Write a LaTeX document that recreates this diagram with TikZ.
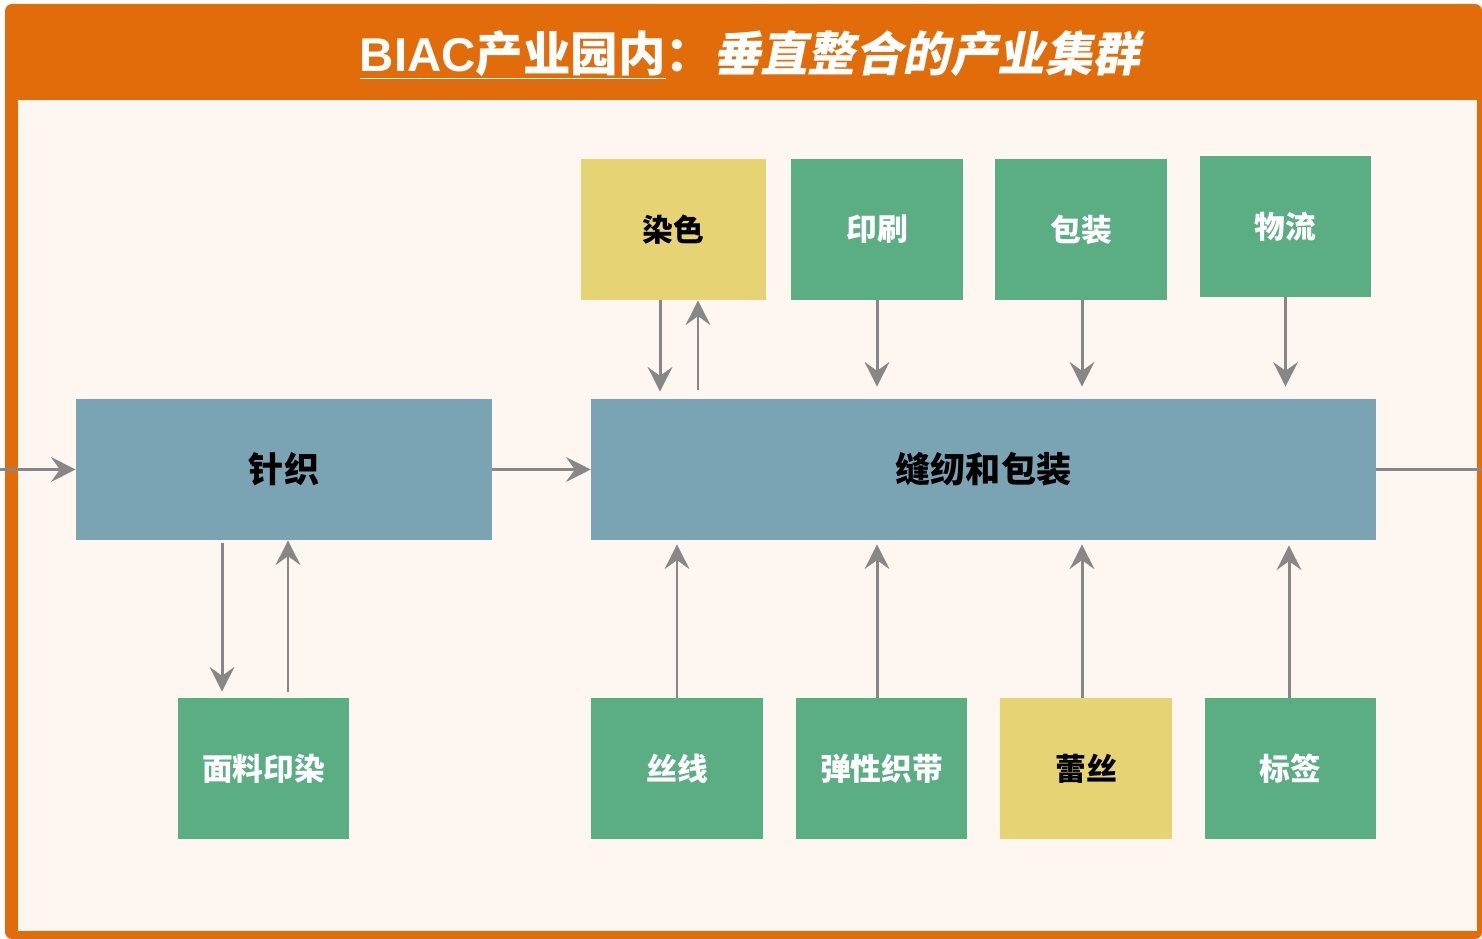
\documentclass[tikz,border=0pt]{standalone}
\usepackage{fontspec}
\setmainfont{Liberation Sans}
\newfontfamily\cjk{Noto Sans CJK SC}
\newfontfamily\cjkit{Noto Sans CJK SC}[FakeSlant=0.2]
\usepackage{tikz}
\usetikzlibrary{arrows.meta}

\definecolor{frameorange}{HTML}{E36C0A}
\definecolor{cream}{HTML}{FEF6F0}
\definecolor{steel}{HTML}{7AA3B4}
\definecolor{leaf}{HTML}{5BAE83}
\definecolor{straw}{HTML}{E6D374}
\definecolor{flowgray}{HTML}{878787}

\tikzset{
  box/.style={rectangle, minimum height=2.82cm, inner sep=0pt, font=\cjk\bfseries\fontsize{17.5}{20}\selectfont},
  bluebox/.style={box, fill=steel, text=black, minimum width=#1, font=\cjk\bfseries\fontsize{20}{24}\selectfont},
  greenbox/.style={box, fill=leaf, text=white, minimum width=#1},
  yellowbox/.style={box, fill=straw, text=black, minimum width=#1},
  flow/.style={draw=flowgray, line width=1.7pt, -{Stealth[length=14pt,width=14pt,inset=5pt]}},
}

\begin{document}
\begin{tikzpicture}[x=0.02cm,y=-0.02cm]

\useasboundingbox (0,0) rectangle (1482,939);

% Frame
\fill[white] (0,0) rectangle (1482,939);
\fill[frameorange, rounded corners=4] (5,4) rectangle (1482,939);
\fill[cream] (18,100) rectangle (1477,931);

% Title
\node[text=white, font=\bfseries\fontsize{27}{32}\selectfont, inner sep=0pt] (title) at (750,55)
  {\underline{BIAC{\cjk 产业园内}}{\cjk ：}{\cjkit 垂直整合的产业集群}};

% Main line
\node[bluebox=8.32cm] (zhenzhi) at (284,469.5) {针织};
\node[bluebox=15.7cm] (fengren) at (983.5,469.5) {缝纫和包装};

% Services above
\node[yellowbox=3.7cm] (ranse) at (673.5,229.5) {染色};
\node[greenbox=3.44cm] (yinshua) at (877,229.5) {印刷};
\node[greenbox=3.44cm] (baozhuang) at (1081,229.5) {包装};
\node[greenbox=3.42cm] (wuliu) at (1285.5,226.5) {物流};

% Materials below
\node[greenbox=3.42cm] (mianliao) at (263.5,768.5) {面料印染};
\node[greenbox=3.44cm] (sixian) at (677,768.5) {丝线};
\node[greenbox=3.44cm] (tanxing) at (881.5,768.5) {弹性织带};
\node[yellowbox=3.44cm] (leisi) at (1086,768.5) {蕾丝};
\node[greenbox=3.42cm] (biaoqian) at (1290.5,768.5) {标签};

% Ends of the main line
\coordinate (in) at (0,469.5);
\coordinate (out) at (1482,469.5);

% Main flow
\draw[flow] (in) -- (zhenzhi.west);
\draw[flow] (zhenzhi.east) -- (fengren.west);
\draw[draw=flowgray, line width=1.7pt] (fengren.east) -- (out);

% Dyeing loop
\draw[flow, shorten >=0.14cm] ([xshift=-0.27cm]ranse.south) -- ([xshift=-0.27cm]ranse.south |- fengren.north);
\draw[flow, shorten <=0.18cm] ([xshift=0.49cm]ranse.south |- fengren.north) -- ([xshift=0.49cm]ranse.south);

% Services into sewing
\draw[flow, shorten >=0.24cm] (yinshua.south) -- (yinshua.south |- fengren.north);
\draw[flow, shorten >=0.24cm] ([xshift=0.02cm]baozhuang.south) -- ([xshift=0.02cm]baozhuang.south |- fengren.north);
\draw[flow, shorten >=0.24cm] (wuliu.south) -- (wuliu.south |- fengren.north);

% Fabric printing loop
\draw[flow, shorten <=0.06cm, shorten >=0.12cm] ([xshift=-0.83cm]mianliao.north |- zhenzhi.south) -- ([xshift=-0.83cm]mianliao.north);
\draw[flow, shorten <=0.12cm] ([xshift=0.49cm]mianliao.north) -- ([xshift=0.49cm]mianliao.north |- zhenzhi.south);

% Materials into sewing
\draw[flow, shorten >=0.08cm] (sixian.north) -- (sixian.north |- fengren.south);
\draw[flow, shorten >=0.08cm] ([xshift=-0.09cm]tanxing.north) -- ([xshift=-0.09cm]tanxing.north |- fengren.south);
\draw[flow, shorten >=0.08cm] ([xshift=-0.08cm]leisi.north) -- ([xshift=-0.08cm]leisi.north |- fengren.south);
\draw[flow, shorten >=0.1cm] ([xshift=-0.03cm]biaoqian.north) -- ([xshift=-0.03cm]biaoqian.north |- fengren.south);

\end{tikzpicture}
\end{document}
